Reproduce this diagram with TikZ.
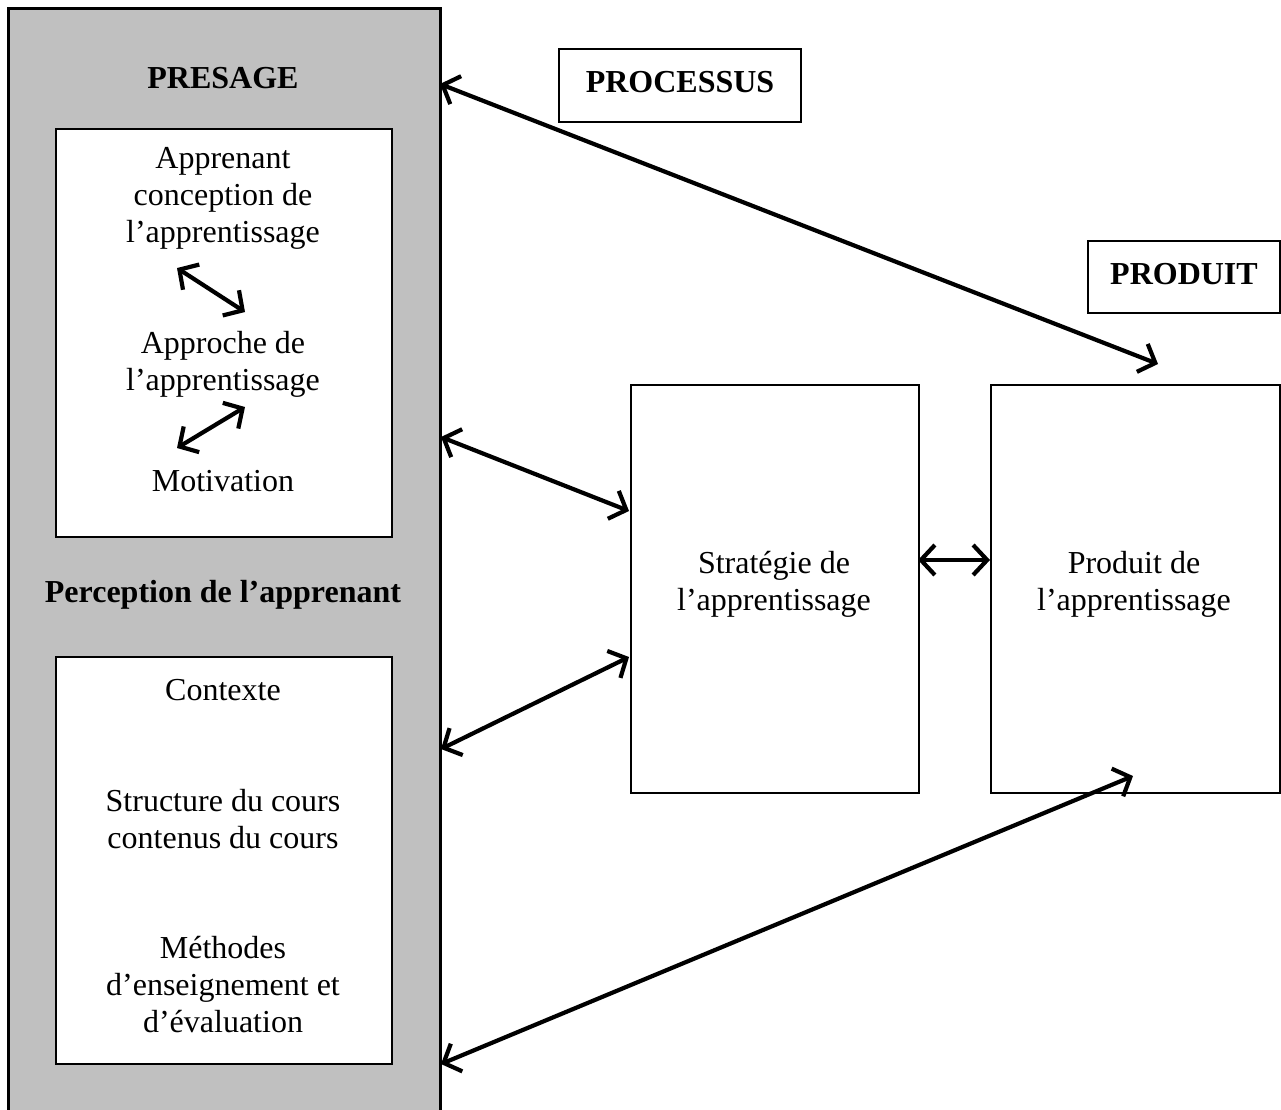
\documentclass[tikz,border=0pt]{standalone}
\usepackage{fontspec}
\setmainfont{Liberation Serif}
\usetikzlibrary{arrows.meta}
\definecolor{panelgrey}{RGB}{192,192,192}
\begin{document}
\begin{tikzpicture}[x=1pt,y=-1pt,
  txt/.style={font=\fontsize{32}{37}\selectfont, align=center, inner sep=0pt},
  bold/.style={font=\fontsize{32}{37}\selectfont\bfseries, align=center, inner sep=0pt},
  whitebox/.style={draw, line width=2pt, fill=white, inner sep=0pt, anchor=north west},
  link/.style={line width=4.2pt, line cap=round,
    {Straight Barb[length=14pt,width=30pt,line width=4.2pt]}-{Straight Barb[length=14pt,width=30pt,line width=4.2pt]}}
]
\useasboundingbox (0,0) rectangle (1281,1109);

% grey presage column (runs off the bottom of the page)
\node[draw, line width=3pt, fill=panelgrey, inner sep=0pt, anchor=north west,
      minimum width=432pt, minimum height=1120pt] (panel) at (7,7) {};

% inner boxes of the column
\node[whitebox, minimum width=336pt, minimum height=408pt] (upper) at (55,128) {};
\node[whitebox, minimum width=336pt, minimum height=407pt] (lower) at (55,656) {};

% process and product boxes
\node[whitebox, minimum width=242pt, minimum height=73pt] (processus) at (558,48) {};
\node[whitebox, minimum width=192pt, minimum height=72pt] (produitlbl) at (1087,240) {};
\node[whitebox, minimum width=288pt, minimum height=408pt] (strat) at (630,384) {};
\node[whitebox, minimum width=289pt, minimum height=408pt] (prod) at (990,384) {};

% headings
\node[bold] (presage) at (223,78) {PRESAGE};
\node[bold] (perception) at (223,595) {Perception de l’apprenant};
\node[bold] at ([yshift=3pt]processus.center) {PROCESSUS};
\node[bold] at ([yshift=3pt]produitlbl.center) {PRODUIT};

% texts of the upper box
\node[txt] (apprenant) at (223,198) {Apprenant\\conception de\\l’apprentissage};
\node[txt] (approche) at (223,364) {Approche de\\l’apprentissage};
\node[txt] (motivation) at (223,481) {Motivation};

% texts of the lower box
\node[txt] (contexte) at (223,690) {Contexte};
\node[txt] (structure) at (223,819) {Structure du cours\\contenus du cours};
\node[txt] (methodes) at (223,985) {Méthodes\\d’enseignement et\\d’évaluation};

% texts of the right boxes
\node[txt] at (774,584) {Stratégie de\\l’apprentissage};
\node[txt] at (1134,584) {Produit de\\l’apprentissage};

% arrow end points
\coordinate (pTop) at (440,84);
\coordinate (pMid) at (441,437);
\coordinate (pLow) at (441,749);
\coordinate (pBot) at (441,1064);
\coordinate (sUp) at (629,511);
\coordinate (sLow) at (629,657);
\coordinate (sE) at (918,560);
\coordinate (dW) at (990,560);
\coordinate (dTop) at (1158,364);
\coordinate (dBot) at (1133,776);
\coordinate (a1) at (177,268);
\coordinate (a2) at (245,312);
\coordinate (b1) at (245,407);
\coordinate (b2) at (177,448);

\draw[link] (pTop) -- (dTop);
\draw[link] (pMid) -- (sUp);
\draw[link] (pLow) -- (sLow);
\draw[link] (sE) -- (dW);
\draw[link] (pBot) -- (dBot);
\draw[link] (a1) -- (a2);
\draw[link] (b1) -- (b2);
\end{tikzpicture}
\end{document}
